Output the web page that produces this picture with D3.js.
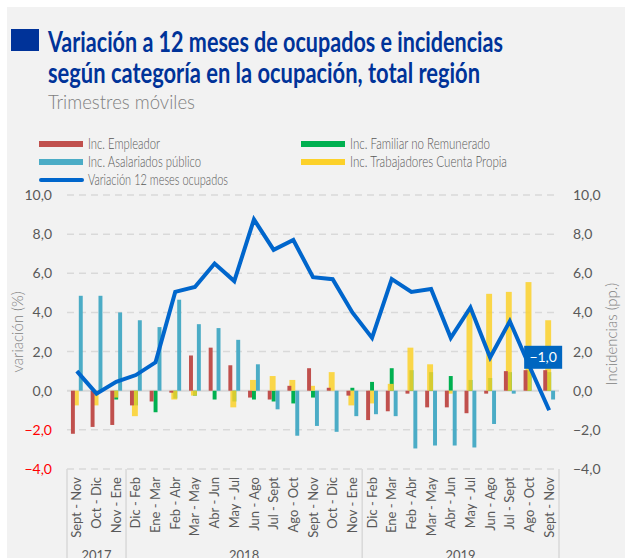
<!DOCTYPE html>
<html>
<head>
<meta charset="utf-8">
<script src="https://cdn.jsdelivr.net/npm/d3@7"></script>
<style>
  html, body { margin: 0; padding: 0; background: #ffffff; }
  svg { display: block; }
</style>
</head>
<body>
<div id="chart" style="width:625px;height:558px;"></div>
<script>
// Categories (rolling quarters) and year groups
const categories = ['Sept - Nov', 'Oct - Dic', 'Nov - Ene',
    'Dic - Feb', 'Ene - Mar', 'Feb - Abr', 'Mar - May', 'Abr - Jun', 'May - Jul',
    'Jun - Ago', 'Jul - Sept', 'Ago - Oct', 'Sept - Nov', 'Oct - Dic', 'Nov - Ene',
    'Dic - Feb', 'Ene - Mar', 'Feb - Abr', 'Mar - May', 'Abr - Jun', 'May - Jul',
    'Jun - Ago', 'Jul - Sept', 'Ago - Oct', 'Sept - Nov'];
const years = ['2017', '2018', '2019'];
const yearCounts = [3, 12, 10];

// Incidences (pp.)
const empleador = [-2.2, -1.85, -1.75, -0.75, -0.55, -0.1, 1.8, 2.2, 1.3, -0.35, -0.45, 0.25,
    1.15, 0.15, -0.25, -1.5, -1.05, -0.15, -0.85, -0.85, -1.15, -0.15, 1.0, 1.05, 1.05];
const familiar = [0, 0, -0.45, -0.75, -1.1, -0.4, -0.25, -0.45, -0.55, -0.45, -0.55, -0.65,
    -0.35, 0, 0.15, 0.45, 1.15, 1.05, 0.95, 0.75, 0.55, 0.65, 0.95, 1.05, 0.95];
const cuentaPropia = [-0.75, -0.75, -0.35, -1.3, 0, -0.45, -0.25, 0, -0.85, 0.55, 0.75, 0.55,
    0.25, 0.95, -0.75, -0.65, 0.35, 2.2, 1.35, -0.15, 4.15, 4.95, 5.05, 5.55, 3.6];
const asalariado = [4.85, 4.85, 4.0, 3.6, 3.25, 4.65, 3.4, 3.2, 2.6, 1.35, -0.95, -2.3,
    -1.8, -2.1, -1.3, -1.2, -1.3, -2.95, -2.8, -2.8, -2.9, -1.7, -0.15, 0, -0.45];

// Variación 12 meses ocupados (%)
const ocupados = [1.0, -0.15, 0.45, 0.8, 1.45, 5.05, 5.3, 6.5, 5.6, 8.75, 7.2, 7.7,
    5.8, 5.7, 4.0, 2.7, 5.7, 5.05, 5.2, 2.7, 4.25, 1.7, 3.55, 1.25, -1.0];

const yTicks = [-4, -2, 0, 2, 4, 6, 8, 10];

function renderChart(container) {
    const width = 625;
    const height = 558;
    const font = 'Lato, "Open Sans", sans-serif';
    const fmt = d => d3.format('.1f')(d).replace('.', ',');

    const x = d3.scaleBand()
        .domain(d3.range(categories.length))
        .range([67, 559])
        .padding(0);
    const bw = x.bandwidth();
    const cx = i => x(i) + bw / 2;

    const y = d3.scaleLinear().domain([-4, 10]).range([469, 195]);
    const y2 = d3.scaleLinear().domain([-4, 10]).range([469, 195]);

    const svg = d3.create('svg')
        .attr('width', width)
        .attr('height', height)
        .attr('viewBox', [0, 0, width, height]);

    // background panel
    svg.append('rect').attr('width', width).attr('height', height).attr('fill', '#ffffff');
    svg.append('rect')
        .attr('x', 7).attr('y', 7)
        .attr('width', width - 7).attr('height', height - 7)
        .attr('fill', '#f2f2f2');

    // Title block
    svg.append('rect')
        .attr('x', 11).attr('y', 29)
        .attr('width', 28).attr('height', 22)
        .attr('fill', '#003399');

    svg.append('text')
        .attr('x', 48).attr('y', 52)
        .attr('textLength', 455).attr('lengthAdjust', 'spacingAndGlyphs')
        .style('font-family', font)
        .style('font-size', '28px')
        .style('font-weight', 'bold')
        .style('fill', '#003399')
        .text('Variación a 12 meses de ocupados e incidencias');

    svg.append('text')
        .attr('x', 48).attr('y', 83)
        .attr('textLength', 432).attr('lengthAdjust', 'spacingAndGlyphs')
        .style('font-family', font)
        .style('font-size', '28px')
        .style('font-weight', 'bold')
        .style('fill', '#003399')
        .text('según categoría en la ocupación, total región');

    svg.append('text')
        .attr('x', 48).attr('y', 109)
        .attr('textLength', 147).attr('lengthAdjust', 'spacingAndGlyphs')
        .style('font-family', font)
        .style('font-size', '20px')
        .style('font-weight', '300')
        .style('fill', '#7f7f7f')
        .text('Trimestres móviles');

    // Legend
    const legendItems = [
        { label: 'Inc. Empleador', color: '#c0504d', x: 39, y: 144, len: 72, line: false },
        { label: 'Inc. Asalariados público', color: '#4bacc6', x: 39, y: 162, len: 113, line: false },
        { label: 'Variación 12 meses ocupados', color: '#0066cc', x: 39, y: 180, len: 140, line: true },
        { label: 'Inc. Familiar no Remunerado', color: '#00b050', x: 301, y: 144, len: 140, line: false },
        { label: 'Inc. Trabajadores Cuenta Propia', color: '#fcd12a', x: 301, y: 162, len: 157, line: false }
    ];
    const legend = svg.append('g');
    legendItems.forEach(d => {
        if (d.line) {
            legend.append('line')
                .attr('x1', d.x + 2).attr('x2', d.x + 43)
                .attr('y1', d.y).attr('y2', d.y)
                .attr('stroke', d.color).attr('stroke-width', 4)
                .attr('stroke-linecap', 'round');
        } else {
            legend.append('rect')
                .attr('x', d.x).attr('y', d.y - 3)
                .attr('width', 44).attr('height', 6)
                .attr('fill', d.color);
        }
        legend.append('text')
            .attr('x', d.x + 49).attr('y', d.y)
            .attr('dy', '0.35em')
            .attr('textLength', d.len).attr('lengthAdjust', 'spacingAndGlyphs')
            .style('font-family', font)
            .style('font-size', '15px')
            .style('font-weight', '300')
            .style('fill', '#595959')
            .text(d.label);
    });

    // Gridlines
    const grid = svg.append('g');
    grid.selectAll('line')
        .data(yTicks)
        .join('line')
        .attr('x1', 67).attr('x2', 559)
        .attr('y1', d => y(d)).attr('y2', d => y(d))
        .attr('stroke', '#d9d9d9')
        .attr('stroke-width', d => d === 0 ? 2 : 1.5)
        .attr('stroke-dasharray', d => d === 0 ? null : '7,5');

    // Left axis
    const leftAxis = svg.append('g')
        .attr('transform', 'translate(60,0)')
        .call(d3.axisLeft(y).tickValues(yTicks).tickSize(0).tickPadding(8).tickFormat(fmt));
    leftAxis.select('.domain').remove();
    leftAxis.selectAll('text')
        .attr('font-family', font)
        .attr('font-size', 14)
        .attr('fill', d => d < 0 ? '#ff0000' : '#595959');

    // Right axis
    const rightAxis = svg.append('g')
        .attr('transform', 'translate(565,0)')
        .call(d3.axisRight(y2).tickValues(yTicks).tickSize(0).tickPadding(8).tickFormat(fmt));
    rightAxis.select('.domain').remove();
    rightAxis.selectAll('text')
        .attr('font-family', font)
        .attr('font-size', 14)
        .attr('fill', '#595959');

    // Axis titles
    svg.append('text')
        .attr('transform', 'translate(23,332) rotate(-90)')
        .attr('text-anchor', 'middle')
        .style('font-family', font)
        .style('font-size', '15px')
        .style('font-weight', '300')
        .style('fill', '#7f7f7f')
        .text('variación (%)');

    svg.append('text')
        .attr('transform', 'translate(617,334) rotate(-90)')
        .attr('text-anchor', 'middle')
        .style('font-family', font)
        .style('font-size', '15px')
        .style('font-weight', '300')
        .style('fill', '#7f7f7f')
        .text('Incidencias (pp.)');

    // Bars
    const series = [
        { values: familiar, color: '#00b050', off: -0.1, w: 0.2, opacity: 1 },
        { values: cuentaPropia, color: '#fcd12a', off: -0.2, w: 0.3, opacity: 0.85 },
        { values: empleador, color: '#c0504d', off: -0.3, w: 0.2, opacity: 1 },
        { values: asalariado, color: '#4bacc6', off: 0.1, w: 0.2, opacity: 1 }
    ];
    series.forEach(s => {
        svg.append('g')
            .selectAll('rect')
            .data(s.values)
            .join('rect')
            .attr('x', (d, i) => cx(i) + s.off * bw)
            .attr('width', s.w * bw)
            .attr('y', d => y(Math.max(0, d)))
            .attr('height', d => Math.abs(y(d) - y(0)))
            .attr('fill', s.color)
            .attr('fill-opacity', s.opacity);
    });

    // Line
    const line = d3.line()
        .x((d, i) => cx(i))
        .y(d => y(d));
    svg.append('path')
        .datum(ocupados)
        .attr('d', line)
        .attr('fill', 'none')
        .attr('stroke', '#0066cc')
        .attr('stroke-width', 4)
        .attr('stroke-linejoin', 'miter');

    // Last value label
    const last = ocupados.length - 1;
    const lx = cx(last) - 6;
    const ly = y(ocupados[last]) - 53;
    svg.append('rect')
        .attr('x', lx - 19).attr('y', ly - 11.5)
        .attr('width', 38).attr('height', 23)
        .attr('fill', '#0066c0');
    svg.append('text')
        .attr('x', lx).attr('y', ly)
        .attr('dy', '0.35em')
        .attr('text-anchor', 'middle')
        .style('font-family', font)
        .style('font-size', '14px')
        .style('fill', '#ffffff')
        .text(fmt(ocupados[last]));

    // Category axis
    const xAxis = svg.append('g')
        .attr('transform', 'translate(0,469)')
        .call(d3.axisBottom(x).tickSize(0).tickFormat(i => categories[i]));
    xAxis.select('.domain').remove();
    xAxis.selectAll('text')
        .attr('transform', 'rotate(-90)')
        .attr('text-anchor', 'end')
        .attr('x', -8)
        .attr('y', 0)
        .attr('dy', '0.35em')
        .attr('font-family', font)
        .attr('font-size', 13)
        .attr('fill', '#595959');

    // Year groups
    let start = 0;
    const bounds = [0];
    years.forEach((yr, k) => {
        const end = start + yearCounts[k];
        bounds.push(end);
        svg.append('text')
            .attr('x', (x(start) + x(end - 1) + bw) / 2)
            .attr('y', 560)
            .attr('text-anchor', 'middle')
            .style('font-family', font)
            .style('font-size', '13px')
            .style('fill', '#595959')
            .text(yr);
        start = end;
    });
    svg.append('g')
        .selectAll('line')
        .data(bounds)
        .join('line')
        .attr('x1', d => d < categories.length ? x(d) : x(d - 1) + bw)
        .attr('x2', d => d < categories.length ? x(d) : x(d - 1) + bw)
        .attr('y1', 469).attr('y2', 558)
        .attr('stroke', '#d9d9d9')
        .attr('stroke-width', 1.5);

    container.appendChild(svg.node());
}

renderChart(document.getElementById('chart'));
</script>
</body>
</html>
